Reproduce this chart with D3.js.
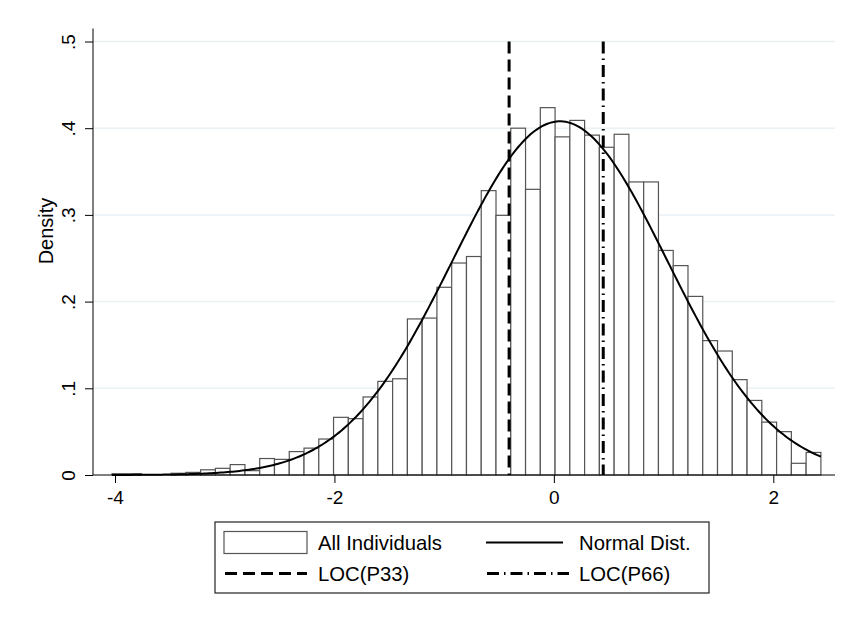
<!DOCTYPE html>
<html>
<head>
<meta charset="utf-8">
<script src="https://cdn.jsdelivr.net/npm/d3@7"></script>
<style>
  body { margin: 0; background: #fff; }
  text { font-family: "Liberation Sans", Arial, Helvetica, sans-serif; fill: #000; }
</style>
</head>
<body>
<script>
// Width and height of the picture
const width = 845;
const height = 621;

// Histogram: first bin edge, bin width and density of each bin
const binStart = -4.027;
const binWidth = 0.1346;
const densities = [
  0.0015, 0.0015, 0, 0, 0.002, 0.003, 0.006, 0.0077, 0.012, 0.005,
  0.019, 0.018, 0.027, 0.031, 0.0415, 0.0665, 0.065, 0.090, 0.108, 0.111,
  0.180, 0.181, 0.2165, 0.2445, 0.252, 0.328, 0.2995, 0.400, 0.3295, 0.4237,
  0.390, 0.409, 0.392, 0.378, 0.393, 0.338, 0.338, 0.259, 0.2415, 0.206,
  0.155, 0.143, 0.110, 0.086, 0.061, 0.050, 0.0135, 0.026
];

// Fitted normal distribution
const normMean = 0.055;
const normSd = 0.978;

// Percentile markers
const p33 = -0.408;
const p66 = 0.45;

// Tick values and labels
const xTicks = [-4, -2, 0, 2];
const yTicks = [0, 0.1, 0.2, 0.3, 0.4, 0.5];
const yTickLabels = ["0", ".1", ".2", ".3", ".4", ".5"];

// Legend entries
const legendItems = [
  { label: "All Individuals", type: "bar" },
  { label: "Normal Dist.", type: "line" },
  { label: "LOC(P33)", type: "dash" },
  { label: "LOC(P66)", type: "dashdot" }
];

const bins = densities.map((d, i) => ({
  x0: binStart + i * binWidth,
  x1: binStart + (i + 1) * binWidth,
  value: d
}));
const dataMin = binStart;
const dataMax = binStart + densities.length * binWidth;

// Scales
const x = d3.scaleLinear().domain([-4, 2]).range([115, 773.3]);
const y = d3.scaleLinear().domain([0, 0.5]).range([475, 41.5]);
const plotLeft = 93;
const plotRight = 835;

const dashPattern = "12,6";
const dashDotPattern = "12,5,1.5,5";

const svg = d3.select("body").append("svg")
    .attr("width", width)
    .attr("height", height)
    .attr("viewBox", [0, 0, width, height]);

// Horizontal grid lines
svg.append("g")
    .selectAll("line")
    .data(yTicks.slice(1))
    .join("line")
    .attr("x1", plotLeft)
    .attr("x2", plotRight)
    .attr("y1", d => y(d))
    .attr("y2", d => y(d))
    .attr("stroke", "#e9f1f4")
    .attr("stroke-width", 1.5);

// Histogram bars
svg.append("g")
    .attr("fill", "#fff")
    .attr("stroke", "#555")
    .attr("stroke-width", 1.2)
    .selectAll("rect")
    .data(bins)
    .join("rect")
    .attr("x", d => x(d.x0))
    .attr("width", d => x(d.x1) - x(d.x0))
    .attr("y", d => y(d.value))
    .attr("height", d => y(0) - y(d.value));

// Normal density curve
const curvePoints = d3.range(0, 301).map(i => {
  const v = dataMin + (dataMax - dataMin) * i / 300;
  const z = (v - normMean) / normSd;
  return [v, Math.exp(-0.5 * z * z) / (normSd * Math.sqrt(2 * Math.PI))];
});
svg.append("path")
    .datum(curvePoints)
    .attr("fill", "none")
    .attr("stroke", "#000")
    .attr("stroke-width", 2)
    .attr("d", d3.line().x(d => x(d[0])).y(d => y(d[1])));

// Percentile lines
svg.append("line")
    .attr("x1", x(p33)).attr("x2", x(p33))
    .attr("y1", y(0.5)).attr("y2", y(0))
    .attr("stroke", "#000")
    .attr("stroke-width", 3)
    .attr("stroke-dasharray", dashPattern);

svg.append("line")
    .attr("x1", x(p66)).attr("x2", x(p66))
    .attr("y1", y(0.5)).attr("y2", y(0))
    .attr("stroke", "#000")
    .attr("stroke-width", 3)
    .attr("stroke-dasharray", dashDotPattern);

// Axes
const xAxis = svg.append("g")
    .attr("transform", `translate(0,${y(0)})`)
    .call(d3.axisBottom(x).tickValues(xTicks).tickFormat(d3.format("d")).tickSize(8).tickPadding(8));
xAxis.select(".domain").attr("d", `M${plotLeft},0H${plotRight}`).attr("stroke", "#000");
xAxis.selectAll(".tick text").attr("font-size", 19).attr("fill", "#000")
    .attr("font-family", "'Liberation Sans', Arial, sans-serif")
    .text(d => d < 0 ? "-" + Math.abs(d) : d);
xAxis.selectAll(".tick line").attr("stroke", "#000");

const yAxis = svg.append("g")
    .attr("transform", `translate(${plotLeft},0)`)
    .call(d3.axisLeft(y).tickValues(yTicks).tickSize(8).tickFormat((d, i) => yTickLabels[i]));
yAxis.select(".domain").attr("d", `M0,${y(0.515)}V${y(0)}`).attr("stroke", "#000");
yAxis.selectAll(".tick line").attr("stroke", "#000");
yAxis.selectAll(".tick text")
    .attr("font-size", 19)
    .attr("fill", "#000")
    .attr("font-family", "'Liberation Sans', Arial, sans-serif")
    .attr("x", null).attr("dy", null)
    .attr("text-anchor", "middle")
    .attr("transform", "translate(-18,0) rotate(-90)");

// Y axis title
svg.append("text")
    .attr("transform", "translate(53,231) rotate(-90)")
    .attr("text-anchor", "middle")
    .attr("font-size", 20)
    .text("Density");

// Legend
const legend = svg.append("g");
legend.append("rect")
    .attr("x", 215).attr("y", 522)
    .attr("width", 494).attr("height", 71)
    .attr("fill", "#fff")
    .attr("stroke", "#222")
    .attr("stroke-width", 1.2);

const colX = [224, 486];
const rowY = [542.5, 573.5];
const item = legend.selectAll("g.item")
    .data(legendItems)
    .join("g")
    .attr("class", "item")
    .attr("transform", (d, i) => `translate(${colX[i % 2]},${rowY[Math.floor(i / 2)]})`);

item.filter(d => d.type === "bar").append("rect")
    .attr("x", 0).attr("y", -11)
    .attr("width", 83).attr("height", 22)
    .attr("fill", "#fff")
    .attr("stroke", "#555")
    .attr("stroke-width", 1.2);

item.filter(d => d.type !== "bar").append("line")
    .attr("x1", d => d.type === "line" ? 0 : 1)
    .attr("x2", d => d.type === "line" ? 77 : 83)
    .attr("stroke", "#000")
    .attr("stroke-width", d => d.type === "line" ? 2 : 3)
    .attr("stroke-dasharray", d => d.type === "dash" ? dashPattern : d.type === "dashdot" ? dashDotPattern : null);

item.append("text")
    .attr("x", (d, i) => i % 2 === 0 ? 94 : 93)
    .attr("y", 7)
    .attr("font-size", 20.3)
    .text(d => d.label);
</script>
</body>
</html>
